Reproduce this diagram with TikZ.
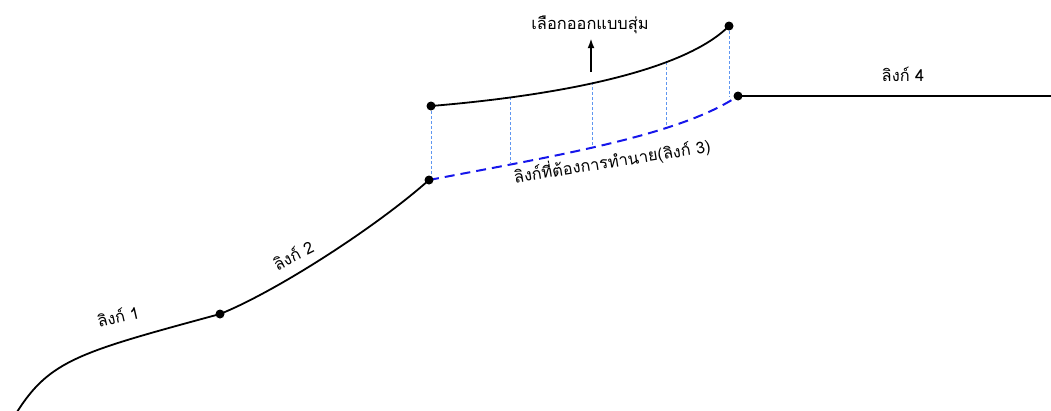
\documentclass[tikz,border=0pt]{standalone}
\usepackage{fontspec}
\newfontfamily\thaifont[Script=Thai]{Loma}
\usetikzlibrary{arrows.meta}
\definecolor{linkc}{RGB}{0,0,0}
\definecolor{pred}{RGB}{22,22,235}
\definecolor{guide}{RGB}{95,150,240}
\tikzset{
  lcurve/.style={linkc,line width=1.8pt},
  lpred/.style={pred,line width=2pt,dash pattern=on 10pt off 6pt},
  lguide/.style={guide,line width=0.9pt,dash pattern=on 3pt off 2pt},
  ldot/.style={circle,fill=linkc,inner sep=0pt,minimum size=9pt},
  llab/.style={font=\thaifont\fontsize{16.4}{18}\selectfont,inner sep=1pt},
}
\begin{document}
\begin{tikzpicture}[x=1pt,y=-1pt]
  \useasboundingbox (0,0) rectangle (1051,410);
  % link end points
  \coordinate (s0) at (17,412);
  \coordinate (p1) at (220,314);
  \coordinate (p2) at (429,180);
  \coordinate (p3) at (738,96);
  \coordinate (e4) at (1053,96);
  \coordinate (q1) at (431,106);
  \coordinate (q2) at (729,26);
  % guide ends
  \coordinate (u1) at (510,97);  \coordinate (d1) at (510,163);
  \coordinate (u2) at (592,82);  \coordinate (d2) at (592,147);
  \coordinate (u3) at (666,62);  \coordinate (d3) at (666,128);
  \coordinate (d4) at (731,97);
  \foreach \a/\b in {q1/p2,u1/d1,u2/d2,u3/d3,q2/d4}
    {\draw[lguide] (\a) -- (\b -| \a);}
  % links
  \draw[lcurve] (s0) .. controls (50,360) and (80,352) .. (p1);
  \draw[lcurve] (p1) .. controls (275,292) and (375,228) .. (p2);
  \draw[lpred] (p2) .. controls (560,155) and (680,135) .. (p3);
  \draw[lcurve] (p3) -- (e4);
  \draw[lcurve] (q1) .. controls (540,97) and (680,75) .. (q2);
  % labels
  \node[llab] (pick) at (590,25) {เลือกออกแบบสุ่ม};
  \node[llab,rotate=9] (target) at (612,161) {ลิงก์ที่ต้องการทำนาย(ลิงก์ 3)};
  \node[llab,rotate=13] (l1) at (118,316) {ลิงก์ 1};
  \node[llab,rotate=27] (l2) at (293,255) {ลิงก์ 2};
  \node[llab] (l4) at (903,74) {ลิงก์ 4};
  \coordinate (a0) at (591,72);
  \draw[linkc,line width=1.8pt,-{Latex[length=10pt,width=7pt]},shorten >=3pt] (a0) -- (pick.south -| a0);
  \foreach \n in {p1,p2,p3,q1,q2} {\node[ldot] at (\n) {};}
\end{tikzpicture}
\end{document}
